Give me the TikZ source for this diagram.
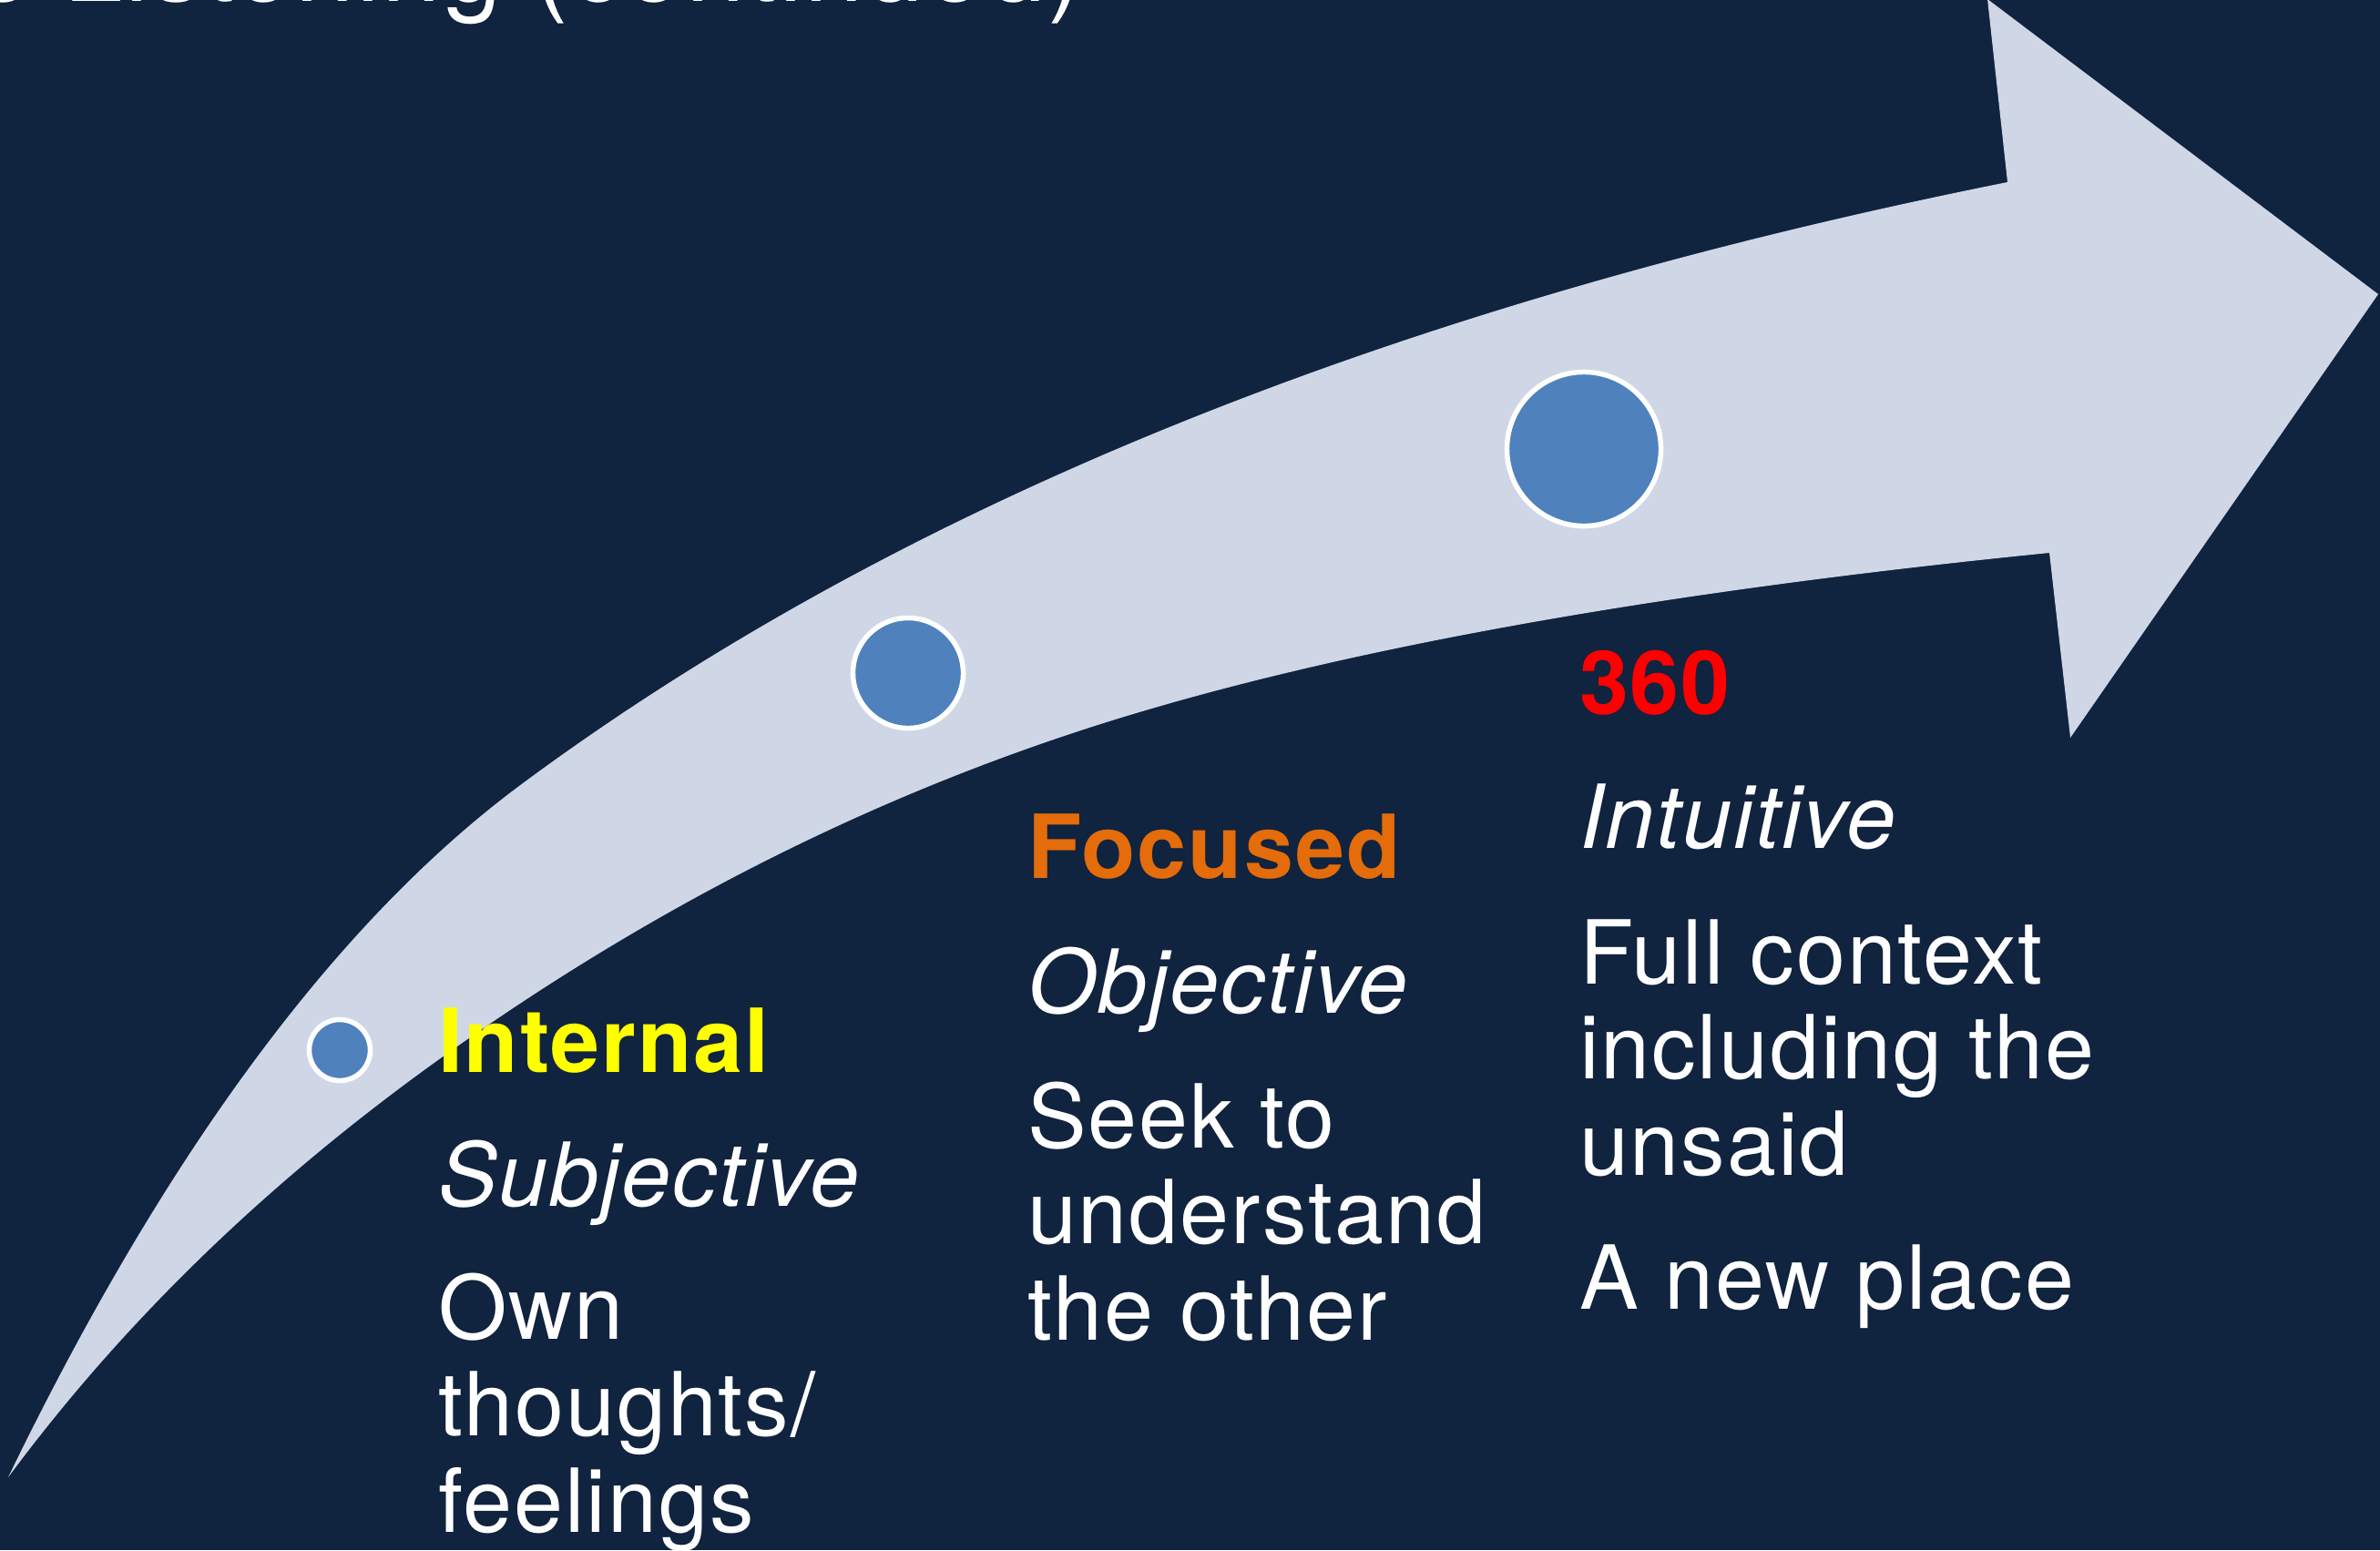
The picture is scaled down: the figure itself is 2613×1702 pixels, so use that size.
\documentclass[tikz,border=0pt]{standalone}
\usepackage{fontspec}
\setmainfont{TeX Gyre Heros}[LetterSpace=2.0]
\definecolor{bgnavy}{RGB}{16,35,63}
\definecolor{bandgrey}{RGB}{207,215,230}
\definecolor{dotblue}{RGB}{79,129,189}
\definecolor{hdyellow}{RGB}{255,255,0}
\definecolor{hdorange}{RGB}{228,108,10}
\definecolor{hdred}{RGB}{255,0,0}
\begin{document}
\begin{tikzpicture}[x=0.01cm, y=-0.01cm,
  txt/.style={anchor=base west, inner sep=0pt, outer sep=0pt, text=white,
              font=\fontsize{27.6pt}{30pt}\selectfont},
  head/.style={txt, font=\fontsize{27.6pt}{30pt}\selectfont\bfseries},
  sub/.style={txt, font=\fontsize{27.6pt}{30pt}\selectfont\itshape},
  dot/.style={circle, draw=white, line width=1.56pt, fill=dotblue, inner sep=0pt}]
\useasboundingbox (0,0) rectangle (2613,1702);
\clip (0,0) rectangle (2613,1702);
\fill[bgnavy] (0,0) rectangle (2613,1702);

% title line, mostly above the page edge
\node[anchor=base east, inner sep=0pt, text=white,
      font=\fontsize{33pt}{36pt}\selectfont] (title) at (1190,1) {e Listening (continued)};

% curved arrow: upper edge, head, lower edge
\fill[bandgrey]
  (9,1622) .. controls (182.7,1264) and (371,1010) .. (574,860)
           .. controls (986.4,554.9) and (1529.7,334.9) .. (2204,200)
  -- (2182,-1) -- (2611,323) -- (2273,810) -- (2250,607)
           .. controls (1834,648.6) and (1498.7,707.6) .. (1244,784)
           .. controls (975,864.7) and (719.7,992) .. (478,1166)
           .. controls (290.5,1301) and (134.1,1453) .. (9,1622)
  -- cycle;

% stage markers
\node[dot, minimum size=0.67cm] (d1) at (373,1153) {};
\node[dot, minimum size=1.21cm] (d2) at (997,739) {};
\node[dot, minimum size=1.69cm] (d3) at (1739,493) {};

% stage 1
\node[head, text=hdyellow] (i1) at (481,1177) {Internal};
\node[sub] (i2) at (481,1324) {Subjective};
\node[txt] (i3) at (481,1470) {Own};
\node[txt] (i4) at (481,1576) {thoughts/};
\node[txt] (i5) at (481,1682) {feelings};

% stage 2
\node[head, text=hdorange] (f1) at (1128,964) {Focused};
\node[sub] (f2) at (1128,1112) {Objective};
\node[txt] (f3) at (1128,1260) {Seek to};
\node[txt] (f4) at (1128,1365) {understand};
\node[txt] (f5) at (1128,1471) {the other};

% stage 3
\node[head, text=hdred] (t1) at (1734,784) {360};
\node[sub] (t2) at (1734,931) {Intuitive};
\node[txt] (t3) at (1734,1080) {Full context};
\node[txt] (t4) at (1734,1184) {including the};
\node[txt] (t5) at (1734,1290) {unsaid};
\node[txt] (t6) at (1734,1437) {A new place};
\end{tikzpicture}
\end{document}
